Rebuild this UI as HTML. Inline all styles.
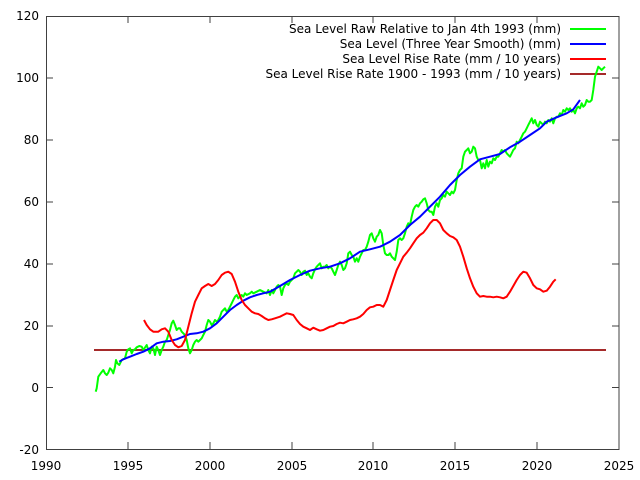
<!DOCTYPE html>
<html><head><meta charset="utf-8"><style>
html,body{margin:0;padding:0;background:#fff;}
svg{display:block;}
text{font-family:"DejaVu Sans","Liberation Sans",sans-serif;font-size:12px;fill:#000;}
</style></head><body>
<svg width="640" height="480" viewBox="0 0 640 480" xmlns="http://www.w3.org/2000/svg">
<rect width="640" height="480" fill="#fff"/>
<g stroke="#404040" stroke-width="1" fill="none">
<path d="M46,78H53M46,140H53M46,202H53M46,264H53M46,326H53M46,387.5H53"/>
<path d="M619,78H612M619,140H612M619,202H612M619,264H612M619,326H612M619,387.5H612"/>
<path d="M128,449V442M210,449V442M292,449V442M373,449V442M455,449V442M537,449V442"/>
<path d="M128,16V23M210,16V23M292,16V23M373,16V23M455,16V23M537,16V23"/>
</g>
<g text-anchor="end">
<text x="39" y="20">120</text>
<text x="39" y="82">100</text>
<text x="39" y="144">80</text>
<text x="39" y="206">60</text>
<text x="39" y="268">40</text>
<text x="39" y="330">20</text>
<text x="39" y="392">0</text>
<text x="39" y="454">-20</text>
</g>
<g text-anchor="middle">
<text x="46" y="470">1990</text>
<text x="128" y="470">1995</text>
<text x="210" y="470">2000</text>
<text x="292" y="470">2005</text>
<text x="373" y="470">2010</text>
<text x="455" y="470">2015</text>
<text x="537" y="470">2020</text>
<text x="619" y="470">2025</text>
</g>
<g text-anchor="end">
<text x="561" y="33">Sea Level Raw Relative to Jan 4th 1993 (mm)</text>
<text x="561" y="48">Sea Level (Three Year Smooth) (mm)</text>
<text x="561" y="63">Sea Level Rise Rate (mm / 10 years)</text>
<text x="561" y="78">Sea Level Rise Rate 1900 - 1993 (mm / 10 years)</text>
</g>
<g stroke-width="2" fill="none" stroke-linejoin="round">
<path d="M570,29H606" stroke="#00ff00"/>
<path d="M570,44H606" stroke="#0000ff"/>
<path d="M570,59H606" stroke="#ff0000"/>
<path d="M570,74H606" stroke="#a52a2a"/>
<path d="M94,350H606" stroke="#a52a2a"/>
<path stroke="#00ff00" d="M95.7,391.7L96.7,388.3L98.3,376.7L100.7,373.3L103.3,370L105,373.3L106.7,375L108.3,372.7L110,368.3L111.7,370L113.3,373.3L115,366.7L116,360L117.3,363.3L119.3,365L121.7,360L125,358.3L126.7,351.7L128.3,349.3L130,348.3L131.7,353.3L133.3,350L135,349.3L136.7,347.3L139.3,346L141.7,346.7L143.3,350L146.7,345L148.3,350L150,353.3L151.7,346.7L153.3,348.3L155,355L156.7,346.7L158.3,350L160,355L161.7,350L163.3,346.7L165,341.7L166.7,340L168.3,335L170,330L171.7,323.3L173.3,320.7L175,325L176.7,330L178.3,328.3L180,328.3L181.7,331.7L183.3,333.3L185,335L186.7,340L188.3,348.3L190,353.3L191.7,350L193.3,345L195,341.7L196.7,340L198.3,341.7L200,340L201.7,338.3L203.3,335L205,331.7L206.7,325L208.3,320L210,321.7L211.7,325L213.3,323.3L215,320L216.7,321.7L218.3,320L220,316.7L221.7,311.7L223.3,310L225,308.3L226.7,311.7L228.3,310L230,306.7L231.7,303.3L233.3,300L235,296.7L236.7,295L238.3,298.3L240,296.7L241.7,295L243.3,296.7L245,293.3L246.7,295L250,293.3L251.7,291.7L253.3,293.3L256.7,291.7L260,290L263.3,291.7L266.7,293.3L268.3,290L270,295L271.7,290L273.3,293.3L275,290L276.7,286.7L278.3,285L280,286.7L281.7,295L283.3,288.3L285,285L286.7,283.3L288.3,285L290,281.7L291.7,280L293.3,278.3L295,273.3L296.7,271.7L298.3,270L300,271.7L301.7,275L303.3,271.7L305,270.7L306.7,275L308.3,273.3L310,276.7L311.7,278.3L313.3,273.3L315,269.3L316.7,266.7L318.3,265L320,263.3L321.7,268.3L323.3,266.7L325,266.7L326.7,265L328.3,268.3L330,266.7L331.7,268.3L333.3,271.7L335,275L336.7,270L338.3,265L340,261.7L341.7,265L343.3,270L345,268.3L346.7,263.3L348.3,253.3L350,251.7L351.7,255L353.3,256.7L355,261.7L356.7,258.3L358.3,261.7L360,256.7L361.7,253.3L363.3,250L365,250L366.7,246.7L368.3,241.7L370,235L371.7,233.3L373.3,238.3L375,241.7L376.7,236.7L378.3,235L380,230L381.7,233.3L383.3,245L385,253.3L386.7,255L388.3,255L390,253.3L391.7,256.7L393.3,258.3L395,260L396.7,251.7L398.3,240L400,238.3L401.7,240L403.3,238.3L405,233.3L406.7,226.7L408.3,223.3L410,225L411.7,216.7L413.3,210L415,206.7L416.7,205L418.3,206.7L420,203.3L421.7,201.7L423.3,199.3L425,198.3L426.7,203.3L428.3,210L430,211.7L431.7,211.7L433.3,215L435,206.7L436.7,203.3L438.3,206.7L440,200L441.7,198.3L443.3,195L445,196.7L446.7,191.7L448.3,193.3L450,195L451.7,191.7L453.3,193.3L455,190L456.7,180L458.3,173.3L460,170L461.7,168.3L463.3,156.7L465,151.7L466.7,150L468.3,148.3L470,153.3L471.7,151.7L473.3,146.7L475,148.3L476.7,156.7L478.3,160L480,160L481.7,168.3L483.3,163.3L485,168.3L486.7,160L488.3,166.7L490,161.7L491.7,163.3L493.3,158.3L495,160L496.7,156.7L498.3,156.7L500,153.3L501.7,150L503.3,151.7L505,150L506.7,153.3L508.3,155L510,156.7L511.7,153.3L513.3,150L515,148.3L516.7,141.7L518.3,143.3L520,140L521.7,136.7L523.3,133.3L525,131.7L526.7,128.3L528.3,125L530,121.7L531.7,118.3L533.3,123.3L535,120L536.7,125L538.3,126.7L540,121.7L541.7,123.3L543.3,125L545,121.7L546.7,123.3L548.3,120L550,121.7L551.7,118.3L553.3,123.3L555,118.3L556.7,116.7L558.3,116.7L560,113.3L561.7,115L563.3,110L565,111.7L566.7,108.3L568.3,110L570,108.3L571.7,111.7L573.3,110L575,113.3L576.7,108.3L578.3,106.7L580,108.3L581.7,103.3L583.3,106.7L585,105L586.7,100L588.3,101.7L590,101.7L591.7,100L593.3,90L595,76.7L596.7,71.7L598.3,66.7L600,68.3L601.7,70L603.3,68.3L605,66.7"/>
<path stroke="#0000ff" d="M119.3,361.7L123.3,359.3L130,356.7L136.7,354L143.3,351.7L150,348.3L156.7,343.3L163.3,341.7L170,341L176.7,339.3L183.3,336.7L190,334L196.7,333.3L203.3,331.7L210,328.3L216.7,323.3L223.3,316.7L230,310L236.7,305L243.3,300.7L250,297.3L256.7,295L263.3,293.3L270,291.7L280,286L290,280L300,275L310,270.7L320,268.3L330,266.7L340,263.3L350,258.3L360,251.7L370,249.3L380,246.7L390,241.7L400,235L410,225L420,216.7L430,206.7L440,196.7L450,185L460,175L470,166.7L480,159.3L490,156.7L500,154L510,147.3L520,141.7L530,135L540,128.3L546.7,121.7L556.7,117.3L566.7,113.3L573.3,109.3L580,100"/>
<path stroke="#ff0000" d="M144,320L146.7,325L150,329.3L153.3,331.7L158.3,331.7L161.7,329.3L165,328.3L168.3,331.7L171.7,340L175,345L178.3,347.3L181.7,346L185,340L188.3,326.7L191.7,313.3L195,301.7L198.3,295L201.7,288.3L205,286L208.3,284L211.7,286L215,284L218.3,280L221.7,275L225,272.7L228.3,271.7L231.7,274L235,281.7L238.3,291.7L241.7,300L245,305L248.3,308.3L251.7,311.7L255,313.3L258.3,314L261.7,316L265,318.3L268.3,320L271.7,319.3L275,318.3L280,316.7L283.3,315L286.7,313.3L290,314L293.3,315L296.7,320L300,324L303.3,326.7L306.7,328.3L310,330L313.3,327.7L316.7,329.3L320,330.7L323.3,330L326.7,328.3L330,326.7L333.3,326L336.7,324L340,322.7L343.3,323.3L346.7,321.7L350,320L353.3,319.3L356.7,318.3L360,316.7L363.3,314L366.7,310L370,307.3L373.3,306.7L376.7,305L380,305L383.3,306.7L386.7,300L390,290L393.3,280L396.7,270L400,263.3L403.3,256.7L406.7,252.7L410,248.3L413.3,243.3L416.7,238.3L420,235L423.3,232.7L426.7,228.3L430,223.3L433.3,220L436.7,220L440,223.3L443.3,230L446.7,233.3L450,236L453.3,237.3L456.7,240L460,246.7L463.3,256.7L466.7,268.3L470,278.3L473.3,286.7L476.7,293.3L480,296.7L483.3,296L486.7,296.7L490,296.7L493.3,297.3L496.7,296.7L500,297.3L503.3,298.3L506.7,296.7L510,291.7L513.3,286L516.7,280L520,275L523.3,271.7L526.7,272.7L530,278.3L533.3,285L536.7,288.3L540,289.3L543.3,291.7L546.7,290.7L550,286.7L553.3,281.7L555.7,279.3"/>
</g>
<rect x="46.5" y="16.5" width="572.5" height="433" fill="none" stroke="#404040" stroke-width="1"/>
</svg>
</body></html>
